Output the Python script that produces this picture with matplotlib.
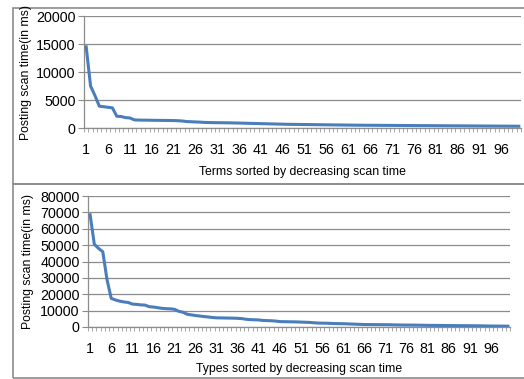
import matplotlib
matplotlib.use("Agg")
import matplotlib.pyplot as plt
from matplotlib.patches import Rectangle

# scan time per term (ms), sorted decreasing
terms_ms = [14500, 7500, 5800, 3900, 3800, 3700, 3600, 2100, 2050, 1850,
            1800, 1450, 1420, 1400, 1400, 1380, 1370, 1360, 1350, 1340,
            1330, 1300, 1250, 1150, 1120, 1080, 1050, 1000, 980, 960,
            950, 940, 930, 920, 900, 880, 860, 840, 820, 800,
            780, 760, 740, 720, 700, 680, 660, 650, 640, 630,
            620, 610, 600, 590, 580, 570, 560, 550, 540, 530,
            520, 510, 500, 495, 490, 485, 480, 475, 470, 465,
            460, 455, 450, 445, 440, 435, 430, 425, 420, 415,
            410, 405, 400, 395, 390, 385, 380, 375, 370, 365,
            360, 355, 350, 345, 340, 335, 330, 325, 320, 315]

# scan time per type (ms), sorted decreasing
types_ms = [68500, 50500, 48000, 46000, 29000, 17500, 16500, 15800, 15300, 15000,
            14000, 13800, 13500, 13400, 12400, 12200, 11800, 11400, 11200, 11100,
            10800, 9600, 9000, 7800, 7400, 7000, 6700, 6400, 6100, 5800,
            5600, 5550, 5500, 5450, 5400, 5300, 5100, 4700, 4500, 4400,
            4300, 4000, 3900, 3800, 3600, 3300, 3250, 3200, 3150, 3100,
            3000, 2900, 2800, 2600, 2400, 2350, 2300, 2200, 2100, 2050,
            2000, 1900, 1800, 1700, 1600, 1500, 1480, 1460, 1440, 1420,
            1400, 1380, 1300, 1250, 1200, 1180, 1160, 1140, 1100, 1050,
            1000, 980, 960, 940, 900, 880, 860, 840, 820, 800,
            780, 760, 740, 700, 650, 600, 580, 560, 540, 500]

xlabels = ["Terms sorted by decreasing scan time", "Types sorted by decreasing scan time"]
ylabel = "Posting scan time(in ms)"
ymax = [20000, 80000]
ystep = [5000, 10000]

plt.rcParams["font.family"] = ["Liberation Sans", "DejaVu Sans"]

W, H = 524, 379
fig = plt.figure(figsize=(W / 100, H / 100), dpi=100)

# panel borders
fig.patches.append(Rectangle((13 / W, 1 - 184 / H), 1, 176 / H, transform=fig.transFigure,
                             fill=False, edgecolor="#8c8c8c", linewidth=1.2))
fig.patches.append(Rectangle((13 / W, 1 - 378 / H), 1, 194 / H, transform=fig.transFigure,
                             fill=False, edgecolor="#8c8c8c", linewidth=1.2))

# axes boxes in pixels: left, top, right, bottom
boxes = [(84, 16, 521, 128), (88, 196, 510, 327)]
ylab_x = [26, 28]
xlab_y = [172, 369]
series = [terms_ms, types_ms]

for i in range(2):
    l, t, r, b = boxes[i]
    ax = fig.add_axes([l / W, 1 - b / H, (r - l) / W, (b - t) / H])
    x = list(range(1, len(series[i]) + 1))
    ax.plot(x, series[i], color="#4a7ebb", linewidth=2.2, solid_joinstyle="round", zorder=3)
    ax.set_xlim(0.5, len(x) + 0.5)
    ax.set_ylim(0, ymax[i])
    ax.set_yticks(range(0, ymax[i] + 1, ystep[i]))
    ax.set_xticks(range(1, len(x) + 1, 5))
    ax.set_xticks([k + 0.5 for k in range(0, len(x) + 1)], minor=True)
    ax.tick_params(axis="x", which="major", length=0, pad=11, labelsize=10.3)
    ax.tick_params(axis="x", which="minor", length=3, width=0.6, color="#9a9a9a", direction="out")
    ax.tick_params(axis="y", length=4, width=0.8, color="#8c8c8c", labelsize=10.3, pad=2)
    ax.grid(axis="y", color="#8c8c8c", linewidth=0.9)
    for s in ["top", "right"]:
        ax.spines[s].set_visible(False)
    for s in ["left", "bottom"]:
        ax.spines[s].set_color("#8c8c8c")
        ax.spines[s].set_linewidth(0.9)
    ax.set_axisbelow(True)
    fig.text(ylab_x[i] / W, 1 - ((t + b) / 2) / H, ylabel, rotation=90, ha="center",
             va="center", fontsize=8.8)
    fig.text(((l + r) / 2) / W, 1 - xlab_y[i] / H, xlabels[i], ha="center",
             va="center", fontsize=8.8)

fig.savefig("out.png", dpi=100)
